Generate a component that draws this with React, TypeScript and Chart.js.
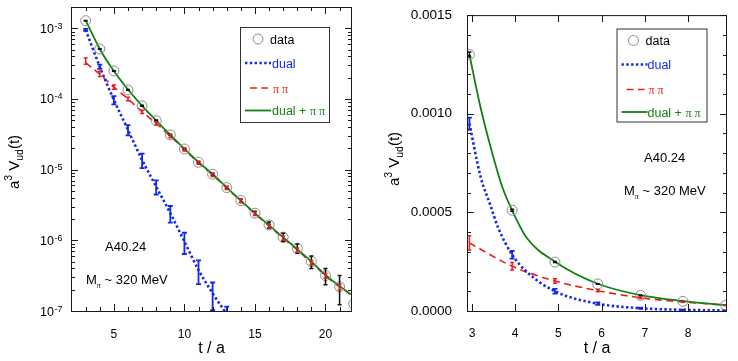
import React, { useEffect, useRef } from "react";
import { Chart, registerables } from "chart.js";

Chart.register(...registerables);

// ---------------- data: left panel (log scale) ----------------
const T_LEFT = [3, 4, 5, 6, 7, 8, 9, 10, 11, 12, 13, 14, 15, 16, 17, 18, 19, 20, 21, 22];
const DATA_LEFT = [1.28e-3, 5.1e-4, 2.49e-4, 1.34e-4, 8.0e-5, 4.93e-5, 3.1e-5, 1.96e-5, 1.27e-5, 8.6e-6, 5.57e-6, 3.65e-6, 2.42e-6, 1.65e-6, 1.11e-6, 7.7e-7, 5.0e-7, 3.17e-7, 2.2e-7, 1.26e-7];
const DATA_LEFT_ERR = [1.3e-5, 5e-6, 2.5e-6, 1.6e-6, 1.2e-6, 1e-6, 6e-7, 5e-7, 3.8e-7, 3e-7, 2.2e-7, 1.8e-7, 1.6e-7, 1.65e-7, 1.45e-7, 1.15e-7, 1e-7, 8.2e-8, 9.7e-8, 2e-8];
const PIPI_LEFT = [3.45e-4, 2.27e-4, 1.47e-4, 1.0e-4, 6.6e-5, 4.5e-5, 2.97e-5, 1.93e-5, 1.25e-5, 8.4e-6, 5.5e-6, 3.6e-6, 2.38e-6, 1.6e-6, 1.07e-6, 7.3e-7, 4.85e-7, 3.15e-7, 2.2e-7, 1.6e-7];
const PIPI_LEFT_ERR = [3.5e-5, 2e-5, 1e-5, 6e-6, 3.5e-6, 2.2e-6, 1.4e-6, 9e-7, 6e-7, 4.2e-7, 2.8e-7, 1.9e-7, 1.3e-7, 9e-8, 7e-8, 5e-8, 3.5e-8, 2.5e-8, 2e-8, 1.5e-8];
const PIPI_CURVE_LEFT = [3.25e-4, 2.24e-4, 1.47e-4, 1.0e-4, 6.6e-5, 4.5e-5, 2.97e-5, 1.93e-5, 1.25e-5, 8.4e-6, 5.5e-6, 3.6e-6, 2.38e-6, 1.6e-6, 1.07e-6, 7.3e-7, 4.85e-7, 3.15e-7, 2.2e-7, 1.6e-7];
const T_DUAL_LEFT = [3, 4, 5, 6, 7, 8, 9, 10, 11, 12, 13];
const DUAL_LEFT = [9.5e-4, 2.86e-4, 9.7e-5, 3.65e-5, 1.37e-5, 5.75e-6, 2.42e-6, 9.6e-7, 3.8e-7, 1.78e-7, 9e-8];
const DUAL_LEFT_ERR = [3e-5, 2e-5, 1.3e-5, 6e-6, 3.2e-6, 1.3e-6, 6.4e-7, 3.2e-7, 1.4e-7, 7.5e-8, 2.5e-8];
const SUM_LEFT = [1.29e-3, 5.1e-4, 2.48e-4, 1.36e-4, 8.0e-5, 4.95e-5, 3.1e-5, 1.97e-5, 1.28e-5, 8.6e-6, 5.6e-6, 3.65e-6, 2.42e-6, 1.63e-6, 1.1e-6, 7.5e-7, 5.0e-7, 3.25e-7, 2.25e-7, 1.62e-7];

// ---------------- data: right panel (linear scale) ----------------
const T_RIGHT = [2.94, 3.93, 4.92, 5.91, 6.9, 7.88, 8.87];
const DATA_RIGHT = [1.3e-3, 5.11e-4, 2.48e-4, 1.37e-4, 7.9e-5, 4.9e-5, 2.9e-5];
const DATA_RIGHT_ERR = [1.3e-5, 5e-6, 2.5e-6, 1.6e-6, 1.2e-6, 1e-6, 6e-7];
const PIPI_RIGHT = [3.45e-4, 2.27e-4, 1.52e-4, 1.03e-4, 6.7e-5, 4.6e-5, 3.0e-5];
const PIPI_RIGHT_ERR = [3.6e-5, 1.9e-5, 1.1e-5, 6e-6, 3.5e-6, 2.2e-6, 1.4e-6];
const DUAL_RIGHT = [9.5e-4, 2.85e-4, 1.0e-4, 3.7e-5, 1.4e-5, 6e-6, 2.5e-6];
const DUAL_RIGHT_ERR = [3e-5, 2e-5, 1.2e-5, 6e-6, 3e-6, 1.3e-6, 6e-7];
// fit curves (denser near the steep start)
const T_DUAL_CURVE_RIGHT = [2.94, 3.2, 3.42, 3.61, 3.93, 4.27, 4.92, 5.91, 6.9, 7.88, 8.87];
const DUAL_CURVE_RIGHT = [9.5e-4, 6.8e-4, 5.4e-4, 4.2e-4, 2.85e-4, 1.98e-4, 1.0e-4, 3.7e-5, 1.4e-5, 6e-6, 2.5e-6];
const T_SUM_CURVE_RIGHT = [2.94, 3.2, 3.42, 3.7, 3.93, 4.27, 4.92, 5.91, 6.9, 7.88, 8.87];
const SUM_CURVE_RIGHT = [1.3e-3, 1.03e-3, 8.4e-4, 6.3e-4, 5.1e-4, 3.7e-4, 2.5e-4, 1.38e-4, 8.0e-5, 5.0e-5, 3.0e-5];

// ---------------- ticks ----------------
const LEFT_X_MAJOR = [5, 10, 15, 20];
const LEFT_X_MINOR = [3, 4, 6, 7, 8, 9, 11, 12, 13, 14, 16, 17, 18, 19, 21];
const LEFT_Y_EXPONENTS = [-7, -6, -5, -4, -3];
const LEFT_Y_MANTISSAS = [2, 3, 4, 5, 6, 7, 8, 9];
const RIGHT_X_MAJOR = [3, 4, 5, 6, 7, 8];
const RIGHT_Y_MAJOR = [0, 0.0005, 0.001, 0.0015];
const RIGHT_Y_MINOR = [0.0001, 0.0002, 0.0003, 0.0004, 0.0006, 0.0007, 0.0008, 0.0009, 0.0011, 0.0012, 0.0013, 0.0014];

const LABEL_DATA = "data";
const LABEL_DUAL = "dual";
const LABEL_PIPI = "π π";
const LABEL_SUM = "dual + ";
const NOTE_ENS = "A40.24";
const NOTE_MASS = " ~ 320 MeV";

// ---------------- styles ----------------
const SANS = "'Liberation Sans', Arial, Helvetica, sans-serif";
const SERIF = "'Liberation Serif', 'Times New Roman', serif";
const BLUE = "rgb(20,40,235)";
const RED = "rgb(232,30,30)";
const GREEN = "rgb(20,128,20)";
const GRAY = "rgb(140,140,140)";
const INK = "#1a1a1a";

type Part = { t: string; size: number; dy?: number; family?: string; color?: string };

function drawParts(ctx: CanvasRenderingContext2D, parts: Part[], x: number, y: number, color: string, center = false) {
  let w = 0;
  for (const p of parts) {
    ctx.font = `${p.size}px ${p.family || SANS}`;
    w += ctx.measureText(p.t).width;
  }
  let cx = center ? x - w / 2 : x;
  ctx.textAlign = "left";
  ctx.textBaseline = "alphabetic";
  for (const p of parts) {
    ctx.font = `${p.size}px ${p.family || SANS}`;
    ctx.fillStyle = p.color || color;
    ctx.fillText(p.t, cx, y + (p.dy || 0));
    cx += ctx.measureText(p.t).width;
  }
}

type ErrSet = { xs: number[]; ys: number[]; errs: number[]; color: string; width: number; cap: number };
type LegendRow = { kind: "circle" | "dotted" | "dashed" | "solid"; y: number; x0: number; x1: number; tx: number; parts: Part[]; color: string };
type PanelSpec = {
  errSets: ErrSet[];
  xMajor: number[];
  xMinor: number[];
  yMajor: number[];
  yMinor: number[];
  logExps?: number[];
  box: [number, number, number, number];
  rows: LegendRow[];
  notes: { x: number; y: number; parts: Part[] }[];
  yTitle: { x: number; y: number };
  xTitleDy: number;
};

function yTitleParts(): Part[] {
  return [
    { t: "a", size: 15 },
    { t: "3", size: 10.5, dy: -6.5 },
    { t: " V", size: 15 },
    { t: "ud", size: 10.5, dy: 4 },
    { t: "(t)", size: 15 },
  ];
}

function setDash(ctx: CanvasRenderingContext2D, kind: string, color: string) {
  ctx.strokeStyle = color;
  if (kind === "dotted") {
    ctx.lineWidth = 2.6;
    ctx.setLineDash([2.4, 2.4]);
  } else if (kind === "dashed") {
    ctx.lineWidth = 1.6;
    ctx.setLineDash([7, 4.5]);
  } else {
    ctx.lineWidth = 1.8;
    ctx.setLineDash([]);
  }
}

function makePlugin(spec: PanelSpec) {
  return {
    id: "panelDecor",
    afterDatasetsDraw(chart: any) {
      const ctx: CanvasRenderingContext2D = chart.ctx;
      const { left, right, top, bottom } = chart.chartArea;
      const xs = chart.scales.x;
      const ys = chart.scales.y;
      ctx.save();
      ctx.beginPath();
      ctx.rect(left, top, right - left, bottom - top);
      ctx.clip();
      ctx.setLineDash([]);
      for (const s of spec.errSets) {
        ctx.strokeStyle = s.color;
        ctx.lineWidth = s.width;
        for (let i = 0; i < s.xs.length; i++) {
          const px = xs.getPixelForValue(s.xs[i]);
          const hiV = s.ys[i] + s.errs[i];
          const loV = Math.max(s.ys[i] - s.errs[i], 1e-12);
          const hi = ys.getPixelForValue(hiV);
          const lo = ys.getPixelForValue(loV);
          ctx.beginPath();
          ctx.moveTo(px, hi);
          ctx.lineTo(px, lo);
          ctx.moveTo(px - s.cap, hi);
          ctx.lineTo(px + s.cap, hi);
          ctx.moveTo(px - s.cap, lo);
          ctx.lineTo(px + s.cap, lo);
          ctx.stroke();
        }
      }
      ctx.restore();
    },
    afterDraw(chart: any) {
      const ctx: CanvasRenderingContext2D = chart.ctx;
      const { left, right, top, bottom } = chart.chartArea;
      const xs = chart.scales.x;
      const ys = chart.scales.y;
      ctx.save();
      ctx.setLineDash([]);
      ctx.strokeStyle = INK;
      ctx.lineWidth = 1;
      const vTick = (v: number, len: number) => {
        const px = Math.round(xs.getPixelForValue(v)) + 0.5;
        ctx.beginPath();
        ctx.moveTo(px, bottom);
        ctx.lineTo(px, bottom - len);
        ctx.moveTo(px, top);
        ctx.lineTo(px, top + len);
        ctx.stroke();
      };
      const hTick = (v: number, len: number) => {
        const py = Math.round(ys.getPixelForValue(v)) + 0.5;
        ctx.beginPath();
        ctx.moveTo(left, py);
        ctx.lineTo(left + len, py);
        ctx.moveTo(right, py);
        ctx.lineTo(right - len, py);
        ctx.stroke();
      };
      spec.xMajor.forEach((v) => vTick(v, 7));
      spec.xMinor.forEach((v) => vTick(v, 4));
      spec.yMajor.forEach((v) => hTick(v, 7));
      spec.yMinor.forEach((v) => hTick(v, 4));
      ctx.strokeRect(left + 0.5, top + 0.5, right - left - 1, bottom - top);
      if (spec.logExps) {
        for (const e of spec.logExps) {
          const py = ys.getPixelForValue(Math.pow(10, e));
          ctx.font = `9px ${SANS}`;
          const expT = "-" + String(-e);
          const we = ctx.measureText(expT).width;
          ctx.font = `12.5px ${SANS}`;
          const wb = ctx.measureText("10").width;
          const x0 = left - 9 - we - wb;
          ctx.fillStyle = "#000";
          ctx.textAlign = "left";
          ctx.textBaseline = "alphabetic";
          ctx.fillText("10", x0, py + 4.5);
          ctx.font = `9px ${SANS}`;
          ctx.fillText(expT, x0 + wb + 0.5, py + 0.5);
        }
      }
      ctx.save();
      ctx.translate(spec.yTitle.x, spec.yTitle.y);
      ctx.rotate(-Math.PI / 2);
      drawParts(ctx, yTitleParts(), 0, 0, "#000", true);
      ctx.restore();
      drawParts(ctx, [{ t: "t / a", size: 16 }], (left + right) / 2, bottom + spec.xTitleDy, "#000", true);
      for (const n of spec.notes) drawParts(ctx, n.parts, n.x, n.y, "#000");
      const [bx, by, bw, bh] = spec.box;
      ctx.fillStyle = "#fff";
      ctx.fillRect(bx, by, bw, bh);
      ctx.strokeStyle = "#333";
      ctx.lineWidth = 1;
      ctx.setLineDash([]);
      ctx.strokeRect(bx + 0.5, by + 0.5, bw, bh);
      for (const r of spec.rows) {
        if (r.kind === "circle") {
          ctx.setLineDash([]);
          ctx.strokeStyle = GRAY;
          ctx.lineWidth = 1;
          ctx.beginPath();
          ctx.arc(r.x0, r.y, 5, 0, Math.PI * 2);
          ctx.stroke();
        } else {
          setDash(ctx, r.kind, r.color);
          ctx.beginPath();
          ctx.moveTo(r.x0, r.y);
          ctx.lineTo(r.x1, r.y);
          ctx.stroke();
          ctx.setLineDash([]);
        }
        drawParts(ctx, r.parts, r.tx, r.y + 4.5, r.color);
      }
      ctx.restore();
    },
  };
}

function pts(xs: number[], ys: number[]) {
  return xs.map((x, i) => ({ x, y: ys[i] }));
}

function legendRows(ox: number, oy: number, circleX: number, tx: number): LegendRow[] {
  return [
    { kind: "circle", y: oy + 12, x0: ox + circleX, x1: 0, tx: ox + tx - 2, parts: [{ t: LABEL_DATA, size: 12.5 }], color: "#000" },
    { kind: "dotted", y: oy + 36, x0: ox + 5, x1: ox + 31, tx: ox + tx, parts: [{ t: LABEL_DUAL, size: 12.5 }], color: BLUE },
    { kind: "dashed", y: oy + 61, x0: ox + 10, x1: ox + 28, tx: ox + tx + 1, parts: [{ t: LABEL_PIPI, size: 12, family: SERIF }], color: RED },
    {
      kind: "solid",
      y: oy + 83.5,
      x0: ox + 5,
      x1: ox + 31,
      tx: ox + tx,
      parts: [
        { t: LABEL_SUM, size: 12.5 },
        { t: LABEL_PIPI, size: 12, family: SERIF },
      ],
      color: GREEN,
    },
  ];
}

function baseDatasets(t: number[], data: number[], sumT: number[], sum: number[], pipiT: number[], pipi: number[], dualT: number[], dual: number[]) {
  return [
    {
      label: "data",
      data: pts(t, data),
      showLine: false,
      pointRadius: 5,
      pointStyle: "circle",
      pointBorderColor: GRAY,
      pointBackgroundColor: "rgba(0,0,0,0)",
      pointBorderWidth: 1,
      borderWidth: 0,
    },
    {
      label: "dual + pipi",
      data: pts(sumT, sum),
      borderColor: GREEN,
      borderWidth: 1.8,
      pointRadius: 0,
      cubicInterpolationMode: "monotone",
      fill: false,
    },
    {
      label: "dual",
      data: pts(dualT, dual),
      borderColor: BLUE,
      borderWidth: 2.6,
      borderDash: [2.4, 2.4],
      pointRadius: 0,
      cubicInterpolationMode: "monotone",
      fill: false,
      clip: 0,
    },
    {
      label: "pipi",
      data: pts(pipiT, pipi),
      borderColor: RED,
      borderWidth: 1.6,
      borderDash: [7, 4.5],
      pointRadius: 0,
      cubicInterpolationMode: "monotone",
      fill: false,
    },
  ];
}

function leftConfig(): any {
  const spec: PanelSpec = {
    errSets: [
      { xs: T_LEFT, ys: DATA_LEFT, errs: DATA_LEFT_ERR, color: "#111", width: 1.5, cap: 2 },
      { xs: T_LEFT, ys: PIPI_LEFT, errs: PIPI_LEFT_ERR, color: RED, width: 1.5, cap: 2 },
      { xs: T_DUAL_LEFT, ys: DUAL_LEFT, errs: DUAL_LEFT_ERR, color: BLUE, width: 1.8, cap: 2.5 },
    ],
    xMajor: LEFT_X_MAJOR,
    xMinor: LEFT_X_MINOR,
    yMajor: LEFT_Y_EXPONENTS.map((e) => Math.pow(10, e)),
    yMinor: LEFT_Y_EXPONENTS.flatMap((e) => LEFT_Y_MANTISSAS.map((m) => m * Math.pow(10, e))).filter((v) => v < 2.01e-3),
    logExps: LEFT_Y_EXPONENTS,
    box: [240, 27, 89, 95],
    rows: legendRows(240, 27, 18, 32),
    notes: [
      { x: 105, y: 251, parts: [{ t: NOTE_ENS, size: 13 }] },
      {
        x: 86,
        y: 283.5,
        parts: [
          { t: "M", size: 13 },
          { t: "π", size: 8, dy: 4, family: SERIF },
          { t: NOTE_MASS, size: 13 },
        ],
      },
    ],
    yTitle: { x: 18.5, y: 162 },
    xTitleDy: 42,
  };
  return {
    type: "line",
    data: { datasets: baseDatasets(T_LEFT, DATA_LEFT, T_LEFT, SUM_LEFT, T_LEFT, PIPI_CURVE_LEFT, T_DUAL_LEFT, DUAL_LEFT) },
    options: {
      animation: false,
      responsive: false,
      devicePixelRatio: 1,
      events: [],
      layout: { padding: { top: 7, right: 18, left: 0, bottom: 0 } },
      plugins: { legend: { display: false }, tooltip: { enabled: false } },
      scales: {
        x: {
          type: "linear",
          min: 1.96,
          max: 21.88,
          afterFit: (s: any) => {
            s.height = 50;
          },
          grid: { display: false },
          border: { display: false },
          ticks: { stepSize: 5, includeBounds: false, font: { family: SANS, size: 12 }, color: "#000", padding: 8, maxRotation: 0 },
        },
        y: {
          type: "logarithmic",
          min: 1e-7,
          max: 2e-3,
          afterFit: (s: any) => {
            s.width = 71;
          },
          grid: { display: false },
          border: { display: false },
          ticks: { display: false },
        },
      },
    },
    plugins: [makePlugin(spec)],
  };
}

function rightConfig(): any {
  const spec: PanelSpec = {
    errSets: [
      { xs: T_RIGHT, ys: DATA_RIGHT, errs: DATA_RIGHT_ERR, color: "#111", width: 1.5, cap: 2 },
      { xs: T_RIGHT, ys: PIPI_RIGHT, errs: PIPI_RIGHT_ERR, color: RED, width: 1.5, cap: 2 },
      { xs: T_RIGHT, ys: DUAL_RIGHT, errs: DUAL_RIGHT_ERR, color: BLUE, width: 1.8, cap: 2.5 },
    ],
    xMajor: RIGHT_X_MAJOR,
    xMinor: [],
    yMajor: RIGHT_Y_MAJOR,
    yMinor: RIGHT_Y_MINOR,
    box: [246.5, 28.5, 90, 93],
    rows: legendRows(246.5, 28.5, 17, 31),
    notes: [
      { x: 274, y: 161.5, parts: [{ t: NOTE_ENS, size: 13 }] },
      {
        x: 254,
        y: 194.5,
        parts: [
          { t: "M", size: 13 },
          { t: "π", size: 8, dy: 4, family: SERIF },
          { t: NOTE_MASS, size: 13 },
        ],
      },
    ],
    yTitle: { x: 28.5, y: 159 },
    xTitleDy: 42,
  };
  return {
    type: "line",
    data: { datasets: baseDatasets(T_RIGHT, DATA_RIGHT, T_SUM_CURVE_RIGHT, SUM_CURVE_RIGHT, T_RIGHT, PIPI_RIGHT, T_DUAL_CURVE_RIGHT, DUAL_CURVE_RIGHT) },
    options: {
      animation: false,
      responsive: false,
      devicePixelRatio: 1,
      events: [],
      layout: { padding: { top: 10, right: 11, left: 0, bottom: 0 } },
      plugins: { legend: { display: false }, tooltip: { enabled: false } },
      scales: {
        x: {
          type: "linear",
          min: 2.885,
          max: 8.9,
          afterFit: (s: any) => {
            s.height = 50;
          },
          grid: { display: false },
          border: { display: false },
          ticks: { stepSize: 1, includeBounds: false, font: { family: SANS, size: 12 }, color: "#000", padding: 7, maxRotation: 0 },
        },
        y: {
          type: "linear",
          min: 0,
          max: 0.0015,
          afterFit: (s: any) => {
            s.width = 97;
          },
          grid: { display: false },
          border: { display: false },
          ticks: {
            stepSize: 0.0005,
            includeBounds: false,
            font: { family: SANS, size: 13.5 },
            color: "#000",
            padding: 7,
            callback: (v: any) => Number(v).toFixed(4),
          },
        },
      },
    },
    plugins: [makePlugin(spec)],
  };
}

export default function App() {
  const leftRef = useRef<HTMLCanvasElement>(null);
  const rightRef = useRef<HTMLCanvasElement>(null);
  useEffect(() => {
    const c1 = new Chart(leftRef.current as HTMLCanvasElement, leftConfig());
    const c2 = new Chart(rightRef.current as HTMLCanvasElement, rightConfig());
    return () => {
      c1.destroy();
      c2.destroy();
    };
  }, []);
  return (
    <div style={{ position: "absolute", left: 0, top: 0, width: 738, height: 361, background: "#fff" }}>
      <canvas ref={leftRef} width={370} height={361} style={{ position: "absolute", left: 0, top: 0, width: 370, height: 361 }} />
      <canvas ref={rightRef} width={368} height={361} style={{ position: "absolute", left: 370, top: 0, width: 368, height: 361 }} />
    </div>
  );
}
